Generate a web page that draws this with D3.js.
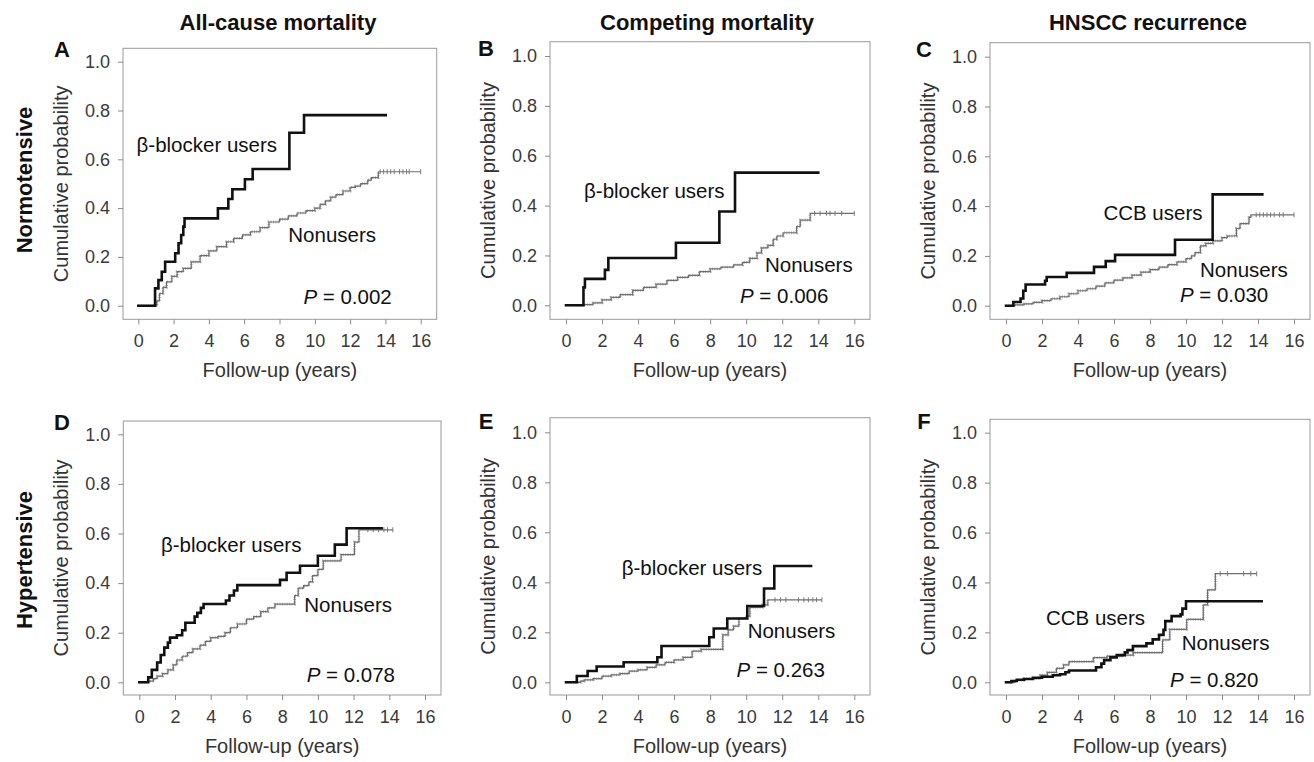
<!DOCTYPE html>
<html>
<head>
<meta charset="utf-8">
<script src="https://cdn.jsdelivr.net/npm/d3@7"></script>
<style>
  html, body { margin: 0; padding: 0; background: #fff; }
  svg { display: block; font-family: "Liberation Sans", Arial, Helvetica, sans-serif; }
</style>
</head>
<body>
<svg id="chart" width="1314" height="762"></svg>
<script>
// ---------------- DATA ----------------
const xTicks = [0, 2, 4, 6, 8, 10, 12, 14, 16];
const yTicks = [0, 0.2, 0.4, 0.6, 0.8, 1.0];
const columnTitles = ["All-cause mortality", "Competing mortality", "HNSCC recurrence"];
const rowLabels = ["Normotensive", "Hypertensive"];
const panelLetters = ["A", "B", "C", "D", "E", "F"];
const userLabels = ["β-blocker users", "β-blocker users", "CCB users", "β-blocker users", "β-blocker users", "CCB users"];
const nonuserLabel = "Nonusers";
const pValues = ["0.002", "0.006", "0.030", "0.078", "0.263", "0.820"];
const xTitle = "Follow-up (years)";
const yTitle = "Cumulative probability";

// step points [years, cumulative probability]
const usersA = [[0,0],[0.95,0.071],[1.14,0.105],[1.33,0.139],[1.52,0.18],[2.09,0.215],[2.28,0.256],[2.43,0.29],[2.55,0.324],[2.62,0.358],[4.51,0.399],[5.1,0.437],[5.33,0.477],[6.04,0.518],[6.48,0.56],[8.56,0.709],[9.39,0.781],[14.02,0.781]];
const nonusersA = [[0,0],[1.0,0.005],[1.05,0.02],[1.2,0.05],[1.4,0.075],[1.6,0.098],[1.9,0.12],[2.2,0.14],[2.55,0.153],[3.0,0.18],[3.5,0.205],[4.0,0.225],[4.45,0.242],[5.0,0.262],[5.4,0.276],[5.9,0.29],[6.35,0.303],[6.9,0.32],[7.4,0.343],[8.0,0.355],[8.5,0.368],[9.0,0.38],[9.5,0.39],[10.0,0.40],[10.3,0.415],[10.6,0.43],[10.9,0.445],[11.2,0.455],[11.6,0.47],[12.0,0.485],[12.3,0.49],[12.6,0.50],[13.0,0.515],[13.2,0.525],[13.6,0.549],[16.0,0.549]];
const censorA = [13.7, 13.9, 14.1, 14.3, 14.5, 14.8, 15.0, 15.2, 15.35, 16.0];

const usersB = [[0,0],[0.97,0.072],[1.05,0.106],[2.16,0.142],[2.35,0.19],[6.1,0.251],[8.51,0.376],[9.38,0.532],[14.0,0.532]];
const nonusersB = [[0,0],[1.0,0.003],[1.5,0.01],[2.0,0.022],[2.5,0.032],[3.0,0.043],[3.7,0.06],[4.3,0.072],[5.0,0.085],[5.6,0.10],[6.2,0.112],[6.8,0.12],[7.4,0.135],[8.0,0.146],[8.6,0.153],[9.3,0.162],[9.8,0.172],[10.2,0.188],[10.6,0.21],[10.85,0.23],[11.2,0.24],[11.5,0.265],[11.7,0.278],[12.05,0.291],[12.8,0.316],[13.0,0.342],[13.55,0.369],[16.0,0.369]];
const censorB = [13.8, 14.1, 14.46, 14.65, 14.93, 15.3, 16.0];

const usersC = [[0,0],[0.41,0.015],[0.81,0.029],[0.96,0.06],[1.09,0.085],[2.17,0.10],[2.26,0.115],[3.37,0.132],[4.89,0.156],[5.54,0.179],[6.06,0.204],[9.39,0.265],[11.48,0.447],[14.24,0.447]];
const nonusersC = [[0,0],[0.5,0.003],[1.0,0.007],[1.5,0.013],[2.0,0.02],[2.5,0.028],[3.0,0.036],[3.5,0.048],[4.0,0.06],[4.5,0.068],[5.0,0.079],[5.5,0.092],[6.0,0.103],[6.5,0.112],[7.0,0.123],[7.5,0.135],[8.0,0.145],[8.5,0.155],[9.0,0.165],[9.5,0.176],[10.0,0.189],[10.3,0.20],[10.5,0.213],[10.8,0.24],[11.1,0.25],[11.5,0.26],[12.0,0.273],[12.3,0.28],[12.8,0.31],[13.0,0.33],[13.5,0.355],[13.6,0.365],[16.0,0.365]];
const censorC = [13.9, 14.1, 14.3, 14.5, 14.7, 14.9, 15.2, 15.4, 16.0];

const usersD = [[0,0],[0.5,0.02],[0.7,0.05],[1.0,0.08],[1.2,0.11],[1.4,0.14],[1.6,0.16],[1.72,0.18],[2.1,0.19],[2.4,0.21],[2.58,0.24],[3.1,0.265],[3.25,0.28],[3.45,0.30],[3.6,0.316],[4.85,0.33],[5.05,0.35],[5.3,0.37],[5.49,0.392],[7.88,0.413],[8.25,0.442],[9.0,0.47],[10.0,0.51],[10.95,0.555],[11.61,0.621],[13.57,0.621]];
const nonusersD = [[0,0],[0.5,0.005],[0.8,0.015],[1.0,0.025],[1.3,0.035],[1.6,0.05],[1.9,0.07],[2.1,0.09],[2.4,0.105],[2.7,0.12],[3.0,0.135],[3.4,0.15],[3.7,0.165],[4.0,0.18],[4.4,0.185],[4.8,0.20],[5.1,0.22],[5.5,0.235],[6.0,0.255],[6.4,0.265],[6.8,0.285],[7.2,0.30],[7.6,0.315],[8.6,0.315],[8.7,0.35],[8.9,0.38],[9.2,0.39],[9.5,0.405],[9.7,0.43],[10.0,0.455],[10.3,0.49],[11.3,0.515],[12.05,0.565],[12.3,0.615],[14.2,0.615]];
const censorD = [12.8, 13.1, 13.4, 13.7, 13.9, 14.2];

const usersE = [[0,0],[0.6,0.025],[1.2,0.045],[1.7,0.063],[3.2,0.08],[5.07,0.10],[5.3,0.145],[7.95,0.18],[8.2,0.215],[8.95,0.255],[10.06,0.305],[10.99,0.375],[11.56,0.465],[13.6,0.465]];
const nonusersE = [[0,0],[0.8,0.005],[1.0,0.01],[1.5,0.015],[2.0,0.025],[2.5,0.03],[3.0,0.035],[3.5,0.045],[4.0,0.05],[4.5,0.06],[5.0,0.07],[5.5,0.08],[6.0,0.09],[6.5,0.10],[7.0,0.125],[7.5,0.132],[8.7,0.19],[9.0,0.21],[9.3,0.225],[9.6,0.256],[10.0,0.265],[10.2,0.30],[10.9,0.31],[11.2,0.33],[14.2,0.33]];
const censorE = [11.6, 11.9, 12.2, 12.9, 13.2, 13.45, 13.7, 13.9, 14.2];

const usersF = [[0,0],[0.3,0.005],[0.6,0.01],[1.0,0.013],[1.5,0.018],[2.0,0.022],[2.6,0.028],[3.0,0.032],[3.3,0.04],[3.5,0.047],[5.0,0.06],[5.3,0.075],[5.45,0.089],[5.8,0.10],[6.15,0.109],[6.6,0.12],[6.75,0.129],[7.05,0.145],[7.8,0.156],[8.15,0.172],[8.5,0.19],[8.75,0.21],[8.85,0.245],[9.2,0.265],[9.7,0.272],[9.8,0.295],[10.0,0.325],[14.2,0.325]];
const nonusersF = [[0,0],[0.5,0.008],[1.0,0.015],[1.9,0.029],[2.3,0.04],[2.8,0.056],[3.2,0.07],[3.5,0.083],[4.85,0.099],[5.6,0.105],[6.5,0.109],[7.07,0.119],[8.7,0.17],[9.1,0.212],[10.04,0.252],[10.96,0.31],[11.2,0.37],[11.63,0.435],[13.93,0.435]];
const censorF = [11.9, 12.3, 13.2, 13.6, 13.93];

const usersSeries = [usersA, usersB, usersC, usersD, usersE, usersF];
const nonusersSeries = [nonusersA, nonusersB, nonusersC, nonusersD, nonusersE, nonusersF];
const censorSeries = [censorA, censorB, censorC, censorD, censorE, censorF];

// ---------------- LAYOUT (pixels / label anchors) ----------------
const layout = [
  { box: [123, 48.3, 436.7, 319.3], xr: [138.3, 420.7], yr: [305.7, 61.7], letter: [62, 57],
    uLab: [-0.1, 0.63], nLab: [8.5, 0.262], pLab: [14.36, 0.008] },
  { box: [550, 41.7, 870, 319.3], xr: [566, 854.3], yr: [305.3, 56], letter: [486, 56],
    uLab: [1.0, 0.43], nLab: [11.04, 0.135], pLab: [14.56, 0.011] },
  { box: [990, 42.7, 1310, 319.3], xr: [1006, 1294], yr: [305.7, 56.7], letter: [924, 57],
    uLab: [5.41, 0.345], nLab: [10.78, 0.116], pLab: [14.57, 0.016] },
  { box: [123.3, 421, 441, 695], xr: [139.3, 425], yr: [682.3, 434.3], letter: [62, 430],
    uLab: [1.21, 0.524], nLab: [9.24, 0.285], pLab: [14.32, 0.0] },
  { box: [550, 417.7, 870, 695], xr: [566, 854.3], yr: [682.3, 432.3], letter: [486, 429],
    uLab: [3.09, 0.43], nLab: [10.08, 0.176], pLab: [14.37, 0.023] },
  { box: [990, 419.3, 1310, 695], xr: [1006, 1294], yr: [682.3, 432.7], letter: [924, 429],
    uLab: [2.22, 0.23], nLab: [9.76, 0.13], pLab: [14.02, -0.02] }
];
const titlePos = [[278, 30], [707, 29.5], [1148, 29.5]];
const rowPos = [[32, 180], [32, 560]];

// ---------------- DRAW ----------------
const svg = d3.select("#chart");

columnTitles.forEach((t, i) => {
  svg.append("text").attr("x", titlePos[i][0]).attr("y", titlePos[i][1])
    .attr("text-anchor", "middle").attr("font-size", 22).attr("font-weight", "bold")
    .attr("fill", "#111").text(t);
});
rowLabels.forEach((t, i) => {
  svg.append("text").attr("transform", `translate(${rowPos[i][0]},${rowPos[i][1]}) rotate(-90)`)
    .attr("text-anchor", "middle").attr("font-size", 22).attr("font-weight", "bold")
    .attr("fill", "#111").text(t);
});

layout.forEach((L, i) => {
  const [bl, bt, br, bb] = L.box;
  const x = d3.scaleLinear().domain([0, 16]).range(L.xr);
  const y = d3.scaleLinear().domain([0, 1]).range(L.yr);
  const g = svg.append("g");

  // box
  g.append("rect").attr("x", bl).attr("y", bt).attr("width", br - bl).attr("height", bb - bt)
    .attr("fill", "none").attr("stroke", "#9a9a9a").attr("stroke-width", 1);

  // axes
  const xa = g.append("g").attr("transform", `translate(0,${bb})`)
    .call(d3.axisBottom(x).tickValues(xTicks).tickSize(5).tickPadding(10).tickFormat(d3.format("d")));
  const ya = g.append("g").attr("transform", `translate(${bl},0)`)
    .call(d3.axisLeft(y).tickValues(yTicks).tickSize(5).tickPadding(8).tickFormat(d3.format(".1f")));
  [xa, ya].forEach(a => {
    a.select(".domain").remove();
    a.selectAll(".tick line").attr("stroke", "#8a8a8a");
    a.selectAll(".tick text").attr("font-size", 18).attr("fill", "#3a3a3a")
      .attr("font-family", "Liberation Sans, Arial, sans-serif");
  });

  // axis titles
  g.append("text").attr("x", (bl + br) / 2).attr("y", bb + 58)
    .attr("text-anchor", "middle").attr("font-size", 20).attr("fill", "#333").text(xTitle);
  g.append("text").attr("transform", `translate(${bl - 55},${(bt + bb) / 2}) rotate(-90)`)
    .attr("text-anchor", "middle").attr("font-size", 20).attr("fill", "#333").text(yTitle);

  // panel letter
  g.append("text").attr("x", L.letter[0]).attr("y", L.letter[1]).attr("text-anchor", "middle")
    .attr("font-size", 22).attr("font-weight", "bold").attr("fill", "#111").text(panelLetters[i]);

  const line = d3.line().x(d => x(d[0])).y(d => y(d[1])).curve(d3.curveStepAfter);

  // nonusers: thin grey step line with dense censoring marks
  const nu = nonusersSeries[i];
  g.append("path").datum(nu.slice(0, nu.length - 1)).attr("d", line).attr("fill", "none")
    .attr("stroke", "#9a9a9a").attr("stroke-width", 2.8).attr("stroke-dasharray", "1 1.4")
    .attr("opacity", 0.75);
  g.append("path").datum(nu).attr("d", line).attr("fill", "none")
    .attr("stroke", "#6e6e6e").attr("stroke-width", 1.2);
  const lastP = nu[nu.length - 1][1];
  g.selectAll(null).data(censorSeries[i]).enter().append("line")
    .attr("x1", d => x(d)).attr("x2", d => x(d))
    .attr("y1", y(lastP) - 2.5).attr("y2", y(lastP) + 2.5)
    .attr("stroke", "#7a7a7a").attr("stroke-width", 1);

  // users: thick black step line
  g.append("path").datum(usersSeries[i]).attr("d", line).attr("fill", "none")
    .attr("stroke", "#111").attr("stroke-width", 2.6).attr("stroke-linejoin", "miter")
    .attr("stroke-linecap", "square");

  // labels
  g.append("text").attr("x", x(L.uLab[0])).attr("y", y(L.uLab[1])).attr("font-size", 20.5)
    .attr("fill", "#111").text(userLabels[i]);
  g.append("text").attr("x", x(L.nLab[0])).attr("y", y(L.nLab[1])).attr("font-size", 20.5)
    .attr("fill", "#111").text(nonuserLabel);
  const pt = g.append("text").attr("x", x(L.pLab[0])).attr("y", y(L.pLab[1])).attr("font-size", 20.5)
    .attr("text-anchor", "end").attr("fill", "#111");
  pt.append("tspan").attr("font-style", "italic").text("P");
  pt.append("tspan").text(" = " + pValues[i]);
});
</script>
</body>
</html>
